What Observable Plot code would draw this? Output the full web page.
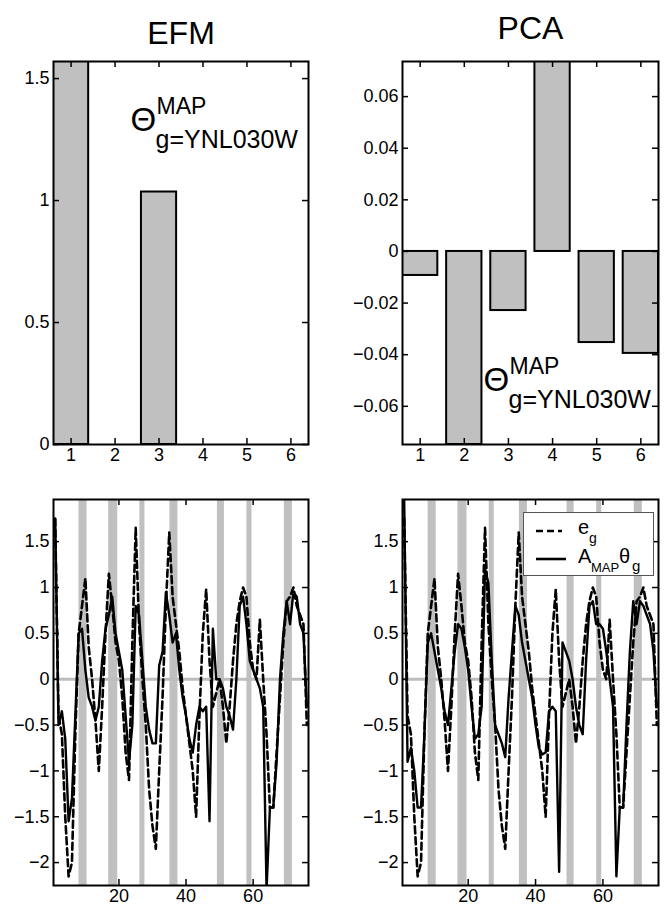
<!DOCTYPE html>
<html><head><meta charset="utf-8">
<script src="https://cdn.jsdelivr.net/npm/d3@7"></script>
<script src="https://cdn.jsdelivr.net/npm/@observablehq/plot@0.6"></script>
<style>
body{margin:0;background:#fff;font-family:"Liberation Sans",Arial,sans-serif;}
#wrap{position:relative;width:666px;height:909px;overflow:hidden;background:#fff;}
.panel{position:absolute;}
#legend{position:absolute;left:523px;top:512px;width:129px;height:62px;border:1px solid #555;background:#fff;}
</style></head><body><div id="wrap"></div>
<script>
// ---------- data ----------
const barLabels = [1, 2, 3, 4, 5, 6];
const efmTheta = [1.57, 0, 1.035, 0, 0, 0];
const pcaTheta = [-0.0093, -0.0748, -0.0229, 0.0736, -0.0353, -0.0395];

const timeIndex = d3.range(1, 77);
const eg = [1.75, -0.4, -0.6, -1.5, -2.15, -2.0, -0.6, 0.5, 0.8, 1.1,
  0.35, 0.0, -0.45, -1.0, -0.3, 0.5, 1.15, 0.8, 0.4, 0.2,
  -0.2, -0.8, -1.1, 0.4, 1.65, 0.6, 0.0, -0.5, -1.2, -1.6,
  -1.85, -1.0, -0.2, 0.8, 1.6, 0.9, 0.6, 0.3, -0.1, -0.4,
  -0.7, -1.0, -1.5, -0.4, 0.5, 0.98, 0.2, -0.3, -0.15, 0.0,
  -0.3, -0.7, -0.3, 0.2, 0.6, 0.85, 1.0, 0.9, 0.4, 0.1,
  0.0, 0.65, 0.0, -0.6, -1.4, -1.4, -0.8, -0.2, 0.4, 0.85,
  0.9, 1.0, 0.8, 0.7, 0.6, -0.5];
const efmFit = [1.75, -0.5, -0.35, -0.65, -1.55, -1.3, -0.4, 0.5, 0.55, 0.1,
  -0.2, -0.3, -0.45, -0.3, 0.2, 0.55, 0.7, 0.9, 0.5, 0.3,
  0.1, -0.4, -0.9, -0.5, 0.8, 0.7, 0.2, -0.3, -0.55, -0.7,
  -0.7, 0.15, 0.3, 0.95, 0.7, 0.4, 0.5, 0.1, -0.2, -0.4,
  -0.65, -0.8, -0.5, -0.3, -0.35, -0.3, -1.55, 0.55, 0.0, 0.0,
  -0.1, -0.3, -0.4, -0.55, 0.0, 0.8, 0.9, 0.6, 0.2, 0.1,
  0.0, -0.1, -0.3, -2.3, -1.4, -1.4, -0.9, 0.0, 0.5, 0.85,
  0.6, 0.95, 0.9, 0.6, 0.5, -0.3];
const pcaFit = [1.95, -0.9, -0.75, -1.0, -1.4, -1.4, -0.6, 0.4, 0.5, 0.3,
  0.1, -0.1, -0.35, -0.5, -0.1, 0.3, 0.6, 0.55, 0.35, 0.1,
  -0.3, -0.65, -0.6, -0.3, 1.2, 1.05, 0.2, -0.5, -0.6, -0.7,
  -0.85, -0.2, 0.3, 0.8, 0.7, 0.4, 0.2, 0.0, -0.2, -0.5,
  -0.75, -0.82, -0.8, -0.35, -0.3, -0.35, -2.1, 0.4, 0.3, 0.2,
  0.0, -0.3, -0.5, -0.6, 0.2, 0.8, 0.85, 0.6, 0.6, 0.55,
  0.3, 0.0, -0.3, -2.15, -1.4, -1.4, -0.5, 0.3, 0.85, 0.6,
  0.85, 0.8, 0.7, 0.6, 0.3, -0.3];

const bandStart = [8.1, 16.95, 26.25, 35.2, 49.35, 58.15, 69.3];
const bandEnd   = [10.5, 19.65, 27.75, 37.6, 51.45, 59.65, 71.7];

const barTicksX = [1, 2, 3, 4, 5, 6];
const efmTicksY = [0, 0.5, 1, 1.5];
const pcaTicksY = [-0.06, -0.04, -0.02, 0, 0.02, 0.04, 0.06];
const seriesTicksX = [20, 40, 60];
const seriesTicksY = [-2, -1.5, -1, -0.5, 0, 0.5, 1, 1.5];

const panelTitles = ["EFM", "PCA"];
const annoTheta = "\u0398", annoSup = "MAP", annoSub = "g=YNL030W";

// ---------- helpers ----------
const FONT = "Liberation Sans, Arial, sans-serif";
const fmt = d => d < 0 ? "\u2212" + Math.abs(d) : String(d);
const wrap = document.getElementById("wrap");
function place(svg, left, top) {
  const d = document.createElement("div");
  d.className = "panel"; d.style.left = left + "px"; d.style.top = top + "px";
  d.appendChild(svg); wrap.appendChild(d);
}
const TK = 6;
// frame width W, height H in pixels; inward tick marks on all four sides
function boxAxes(xt, yt, W, H) {
  const st = {stroke: "#000", strokeWidth: 1.5};
  return [
    Plot.tickX(xt, {x: d => d, insetTop: H - TK, ...st}),
    Plot.tickX(xt, {x: d => d, insetBottom: H - TK, ...st}),
    Plot.tickY(yt, {y: d => d, insetRight: W - TK, ...st}),
    Plot.tickY(yt, {y: d => d, insetLeft: W - TK, ...st}),
    Plot.axisX(xt, {anchor: "bottom", tickSize: 0, tickPadding: 4, tickFormat: fmt, label: null, fontSize: 18}),
    Plot.axisY(yt, {anchor: "left", tickSize: 0, tickPadding: 4, tickFormat: fmt, label: null, fontSize: 18})
  ];
}
function annotation(dx, dy) {
  return [
    Plot.text([annoTheta], {text: d => d, frameAnchor: "top-left", textAnchor: "start", lineAnchor: "bottom", dx: dx, dy: dy, fontSize: 33}),
    Plot.text([annoSup], {text: d => d, frameAnchor: "top-left", textAnchor: "start", lineAnchor: "bottom", dx: dx + 26, dy: dy - 17, fontSize: 23}),
    Plot.text([annoSub], {text: d => d, frameAnchor: "top-left", textAnchor: "start", lineAnchor: "bottom", dx: dx + 25, dy: dy + 17, fontSize: 25})
  ];
}
function barPanel(values, yDomain, yTicks, title, titleDy, m, annoDx, annoDy) {
  const data = barLabels.map((k, i) => ({k, v: values[i]}));
  const W = 333 - m[0] - m[1], H = 480 - 61 - 36;
  return Plot.plot({
    width: 333, height: 480,
    marginLeft: m[0], marginRight: m[1], marginTop: 61, marginBottom: 36,
    x: {domain: [0.6, 6.4]},
    y: {domain: yDomain},
    style: {fontFamily: FONT, fontSize: "18px", color: "#000", background: "transparent", overflow: "visible"},
    marks: [
      Plot.rectY(data, {x1: d => d.k - 0.4, x2: d => d.k + 0.4, y1: 0, y2: "v", fill: "#c0c0c0", stroke: "#000", strokeWidth: 2, clip: true}),
      ...annotation(annoDx, annoDy),
      Plot.frame({stroke: "#000", strokeWidth: 2}),
      ...boxAxes(barTicksX, yTicks, W, H),
      Plot.text([title], {text: d => d, frameAnchor: "top", lineAnchor: "bottom", dy: titleDy, fontSize: 32})
    ]
  });
}
function seriesPanel(fit, m) {
  const data = timeIndex.map((t, i) => ({t, e: eg[i], f: fit[i]}));
  const bands = bandStart.map((a, i) => ({a, b: bandEnd[i]}));
  const W = 333 - m[0] - m[1], H = 429 - 19 - 24;
  return Plot.plot({
    width: 333, height: 429,
    marginLeft: m[0], marginRight: m[1], marginTop: 19, marginBottom: 24,
    x: {domain: [0.5, 76.5]},
    y: {domain: [-2.25, 1.96]},
    style: {fontFamily: FONT, fontSize: "18px", color: "#000", background: "transparent"},
    marks: [
      Plot.rect(bands, {x1: "a", x2: "b", fill: "#c0c0c0"}),
      Plot.ruleY([0], {stroke: "#bdbdbd", strokeWidth: 3}),
      Plot.line(data, {x: "t", y: "e", stroke: "#000", strokeWidth: 2.6, strokeDasharray: "7,4", clip: true}),
      Plot.line(data, {x: "t", y: "f", stroke: "#000", strokeWidth: 2.4, clip: true}),
      Plot.frame({stroke: "#000", strokeWidth: 2}),
      ...boxAxes(seriesTicksX, seriesTicksY, W, H)
    ]
  });
}

place(barPanel(efmTheta, [0, 1.57], efmTicksY, panelTitles[0], -18, [53, 25], 77, 69), 0, 0);
place(barPanel(pcaTheta, [-0.0748, 0.0736], pcaTicksY, panelTitles[1], -23, [69, 8], 81, 329), 333, 0);
place(seriesPanel(efmFit, [53, 25]), 0, 480);
place(seriesPanel(pcaFit, [69, 8]), 333, 480);

// legend
const lg = document.createElement("div");
lg.id = "legend";
lg.innerHTML = `<svg width="129" height="62" style="font-family:${FONT}">
<line x1="12" x2="38" y1="18" y2="18" stroke="#000" stroke-width="2.6" stroke-dasharray="7,4"/>
<line x1="12" x2="42" y1="46" y2="46" stroke="#000" stroke-width="2.6"/>
<text x="54" y="21" font-size="20">e</text><text x="65" y="30" font-size="14">g</text>
<text x="54" y="50" font-size="20">A</text><text x="67" y="59" font-size="13">MAP</text>
<text x="95" y="50" font-size="20">\u03b8</text><text x="108" y="58" font-size="15">g</text>
</svg>`;
wrap.appendChild(lg);
</script>
</body></html>
